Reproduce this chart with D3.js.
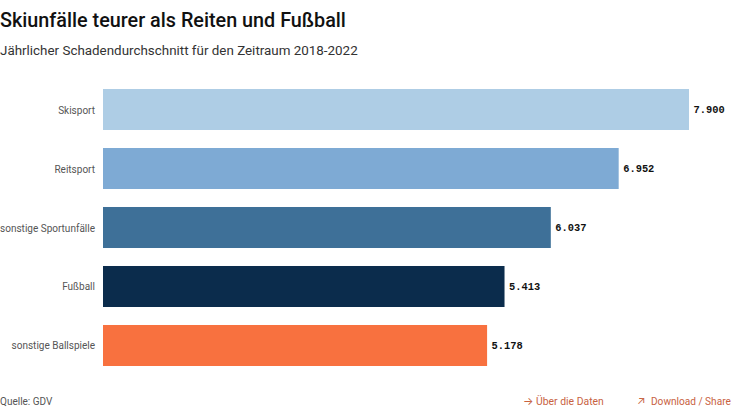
<!DOCTYPE html>
<html>
  <head>
    <meta charset="utf-8">
    <script src="https://d3js.org/d3.v7.min.js"></script>
    <style>
html, body { margin: 0; padding: 0; background: #fff; overflow: hidden; }
svg { display: block; font-family: Roboto, "Noto Sans", sans-serif; }
    </style>
  </head>
  <body>
    <script>
var categories = ["Skisport", "Reitsport", "sonstige Sportunfälle", "Fußball", "sonstige Ballspiele"];
var values = [7900, 6952, 6037, 5413, 5178];
var valueLabels = ["7.900", "6.952", "6.037", "5.413", "5.178"];
var colors = ["#aecde5", "#7eaad4", "#3e7098", "#0b2c4c", "#f8713f"];

var width = 735, height = 413;
var svg = d3.select("body").append("svg").attr("width", width).attr("height", height);

svg.append("text").attr("x", 0).attr("y", 27)
	.style("font-size", "19.8px").style("font-weight", 500).style("fill", "#111")
	.text("Skiunfälle teurer als Reiten und Fußball");
svg.append("text").attr("x", 0).attr("y", 55)
	.style("font-size", "13.4px").style("fill", "#333")
	.text("Jährlicher Schadendurchschnitt für den Zeitraum 2018-2022");

var x = d3.scaleLinear().domain([0, 7900]).range([103, 689]);
var y = d3.scaleBand().domain(categories).range([89, 366]).paddingInner(0.305).paddingOuter(0);

var rows = svg.selectAll("g.row").data(categories).enter().append("g").attr("class", "row");

rows.append("rect")
	.attr("x", x(0))
	.attr("y", function (d) { return y(d); })
	.attr("width", function (d, i) { return x(values[i]) - x(0); })
	.attr("height", y.bandwidth())
	.style("fill", function (d, i) { return colors[i]; });

rows.append("text")
	.attr("x", x(0) - 8)
	.attr("y", function (d) { return y(d) + y.bandwidth() / 2 + 4; })
	.attr("text-anchor", "end")
	.style("font-size", "10px").style("fill", "#555")
	.text(function (d) { return d; });

rows.append("text")
	.attr("x", function (d, i) { return x(values[i]) + 4.5; })
	.attr("y", function (d) { return y(d) + y.bandwidth() / 2 + 3.5; })
	.style("font-family", "'Liberation Mono', 'DejaVu Sans Mono', monospace")
	.style("font-size", "10.4px").style("font-weight", 700).style("fill", "#111")
	.text(function (d, i) { return valueLabels[i]; });

svg.append("text").attr("x", 0).attr("y", 405)
	.style("font-size", "10px").style("fill", "#555").text("Quelle: GDV");
svg.append("text").attr("x", 523).attr("y", 405)
	.style("font-family", "Inter, sans-serif")
	.style("font-size", "11px").style("fill", "#c8623f").text("→");
svg.append("text").attr("x", 536).attr("y", 405)
	.style("font-size", "10.4px").style("fill", "#c8623f").text("Über die Daten");
svg.append("text").attr("x", 637).attr("y", 405)
	.style("font-family", "Inter, sans-serif")
	.style("font-size", "11px").style("fill", "#c8623f").text("↗");
svg.append("text").attr("x", 651).attr("y", 405)
	.style("font-size", "10.1px").style("fill", "#c8623f").text("Download / Share");
    </script>
  </body>
</html>
